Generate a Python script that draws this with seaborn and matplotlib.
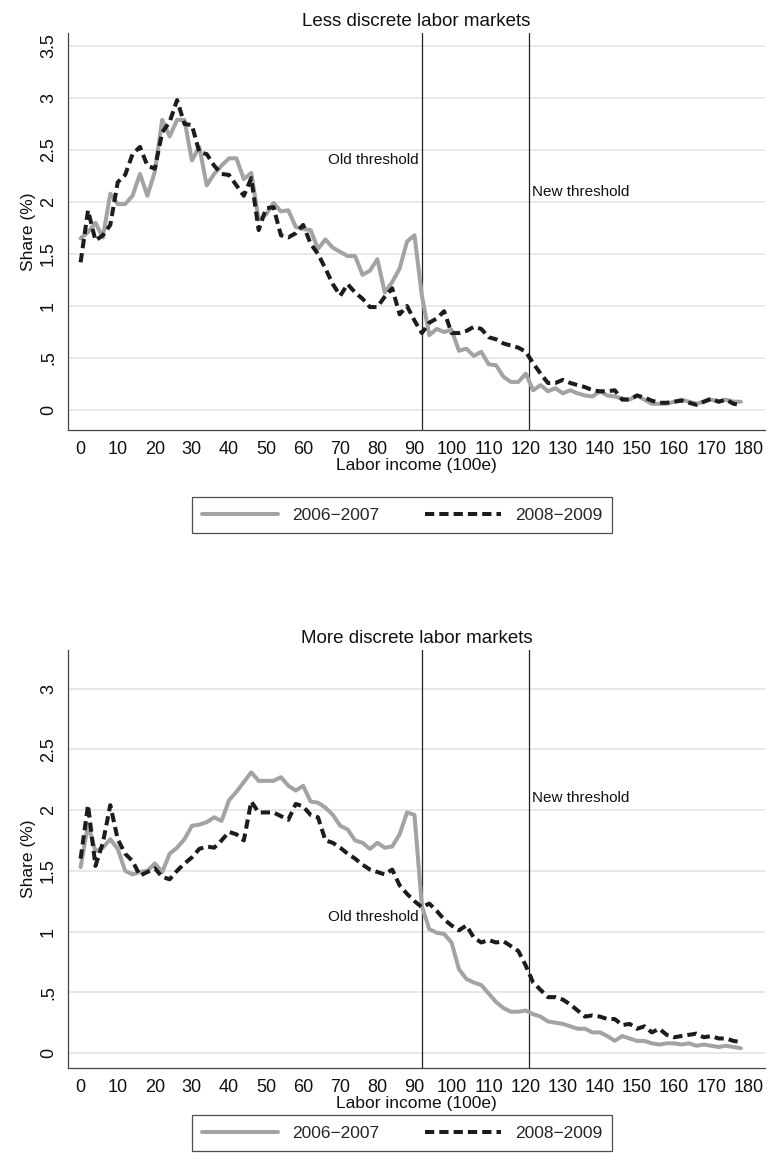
import numpy as np
import pandas as pd
import matplotlib
matplotlib.use("Agg")
import matplotlib.pyplot as plt
import seaborn as sns
from matplotlib.lines import Line2D

# Labor income bins (hundreds of euros)
income = np.arange(0, 180, 2)

# Share of workers (%) per income bin, less discrete labor markets
less_0607 = [1.65, 1.71, 1.80, 1.66, 2.08, 1.98, 1.98, 2.06, 2.27, 2.06,
             2.29, 2.79, 2.63, 2.79, 2.79, 2.40, 2.53, 2.16, 2.27, 2.35,
             2.42, 2.42, 2.22, 2.28, 1.83, 1.88, 1.99, 1.91, 1.92, 1.76,
             1.74, 1.73, 1.55, 1.64, 1.56, 1.52, 1.48, 1.48, 1.30, 1.34,
             1.45, 1.13, 1.23, 1.36, 1.62, 1.68, 1.10, 0.72, 0.78, 0.75,
             0.77, 0.57, 0.59, 0.52, 0.56, 0.44, 0.43, 0.32, 0.27, 0.27,
             0.35, 0.19, 0.24, 0.18, 0.21, 0.16, 0.19, 0.16, 0.14, 0.13,
             0.18, 0.14, 0.13, 0.11, 0.10, 0.14, 0.10, 0.06, 0.06, 0.06,
             0.08, 0.10, 0.08, 0.06, 0.08, 0.10, 0.08, 0.10, 0.08, 0.08]
less_0809 = [1.42, 1.92, 1.63, 1.68, 1.78, 2.19, 2.26, 2.46, 2.53, 2.35,
             2.32, 2.67, 2.77, 2.98, 2.75, 2.74, 2.48, 2.46, 2.35, 2.27,
             2.26, 2.16, 2.06, 2.23, 1.73, 1.94, 1.95, 1.68, 1.66, 1.70,
             1.78, 1.60, 1.50, 1.36, 1.21, 1.10, 1.21, 1.13, 1.07, 0.99,
             0.99, 1.09, 1.17, 0.92, 1.00, 0.86, 0.74, 0.84, 0.88, 0.95,
             0.74, 0.74, 0.76, 0.80, 0.78, 0.70, 0.68, 0.64, 0.62, 0.60,
             0.56, 0.45, 0.35, 0.26, 0.26, 0.29, 0.26, 0.24, 0.22, 0.19,
             0.18, 0.18, 0.19, 0.10, 0.10, 0.14, 0.12, 0.09, 0.07, 0.07,
             0.08, 0.09, 0.07, 0.05, 0.08, 0.11, 0.08, 0.10, 0.06, 0.05]

# Share of workers (%) per income bin, more discrete labor markets
more_0607 = [1.53, 1.88, 1.66, 1.69, 1.76, 1.68, 1.50, 1.47, 1.49, 1.50,
             1.56, 1.49, 1.64, 1.69, 1.76, 1.87, 1.88, 1.90, 1.94, 1.91,
             2.08, 2.15, 2.23, 2.31, 2.24, 2.24, 2.24, 2.27, 2.20, 2.16,
             2.20, 2.07, 2.06, 2.02, 1.96, 1.87, 1.84, 1.75, 1.73, 1.68,
             1.73, 1.69, 1.70, 1.80, 1.98, 1.96, 1.21, 1.02, 0.99, 0.98,
             0.91, 0.69, 0.61, 0.58, 0.56, 0.49, 0.42, 0.37, 0.34, 0.34,
             0.35, 0.32, 0.30, 0.26, 0.25, 0.24, 0.22, 0.20, 0.20, 0.17,
             0.17, 0.14, 0.10, 0.14, 0.12, 0.10, 0.10, 0.08, 0.07, 0.08,
             0.08, 0.07, 0.08, 0.06, 0.07, 0.06, 0.05, 0.06, 0.05, 0.04]
more_0809 = [1.60, 2.04, 1.54, 1.73, 2.04, 1.76, 1.64, 1.58, 1.46, 1.49,
             1.52, 1.45, 1.43, 1.50, 1.56, 1.61, 1.68, 1.70, 1.69, 1.75,
             1.82, 1.80, 1.75, 2.07, 1.98, 1.98, 1.98, 1.95, 1.92, 2.05,
             2.03, 1.96, 1.94, 1.75, 1.73, 1.69, 1.64, 1.60, 1.55, 1.51,
             1.49, 1.47, 1.51, 1.38, 1.31, 1.25, 1.20, 1.23, 1.17, 1.10,
             1.05, 1.01, 1.05, 0.95, 0.91, 0.93, 0.91, 0.92, 0.88, 0.84,
             0.72, 0.58, 0.52, 0.46, 0.46, 0.44, 0.40, 0.35, 0.30, 0.31,
             0.30, 0.28, 0.28, 0.23, 0.24, 0.20, 0.22, 0.17, 0.20, 0.15,
             0.13, 0.14, 0.15, 0.16, 0.13, 0.14, 0.12, 0.12, 0.10, 0.09]

periods = ["2006\u22122007", "2008\u22122009"]
old_threshold = 92
new_threshold = 121

panel_titles = ["Less discrete labor markets", "More discrete labor markets"]
x_ticks = list(range(0, 181, 10))
top_yticks = [0, 0.5, 1, 1.5, 2, 2.5, 3, 3.5]
bot_yticks = [0, 0.5, 1, 1.5, 2, 2.5, 3]

GRAY = "#a3a3a3"
DARK = "#1c1c1c"
LW = 2.9
DASH = (2.3, 1.25)

sns.set_theme(style="white")
plt.rcParams["font.family"] = ["Liberation Sans", "DejaVu Sans"]

fig = plt.figure(figsize=(7.68, 11.73), dpi=100)
W, H = 768, 1173


def axes_box(left, top, right, bottom):
    return [left / W, 1 - bottom / H, (right - left) / W, (bottom - top) / H]


def fmt_tick(v):
    if v == 0:
        return "0"
    s = f"{v:g}"
    return s[1:] if s.startswith("0.") else s


def draw_panel(ax, title, s0607, s0809, yticks, ylim, old_y, new_y):
    df = pd.DataFrame({
        "income": np.concatenate([income, income]),
        "share": np.concatenate([s0607, s0809]),
        "period": [periods[0]] * len(income) + [periods[1]] * len(income),
    })
    for v in yticks:
        ax.axhline(v, color="#e6e6e6", lw=1.3, zorder=0)
    sns.lineplot(data=df, x="income", y="share", hue="period", style="period",
                 palette={periods[0]: GRAY, periods[1]: DARK},
                 dashes={periods[0]: "", periods[1]: DASH},
                 linewidth=LW, ax=ax, legend=False, zorder=3)
    for xv in (old_threshold, new_threshold):
        ax.axvline(xv, color="#222222", lw=0.9, zorder=2)
    ax.text(old_threshold - 0.8, old_y, "Old threshold", ha="right", va="center",
            fontsize=11, color="#111111")
    ax.text(new_threshold + 0.8, new_y, "New threshold", ha="left", va="center",
            fontsize=11, color="#111111")
    ax.set_xlim(-3.4, 184.5)
    ax.set_ylim(*ylim)
    ax.set_xticks(x_ticks)
    ax.set_xticklabels([str(t) for t in x_ticks], fontsize=13)
    ax.set_yticks(yticks)
    ax.set_yticklabels([fmt_tick(v) for v in yticks], fontsize=13,
                       rotation=90, va="center")
    ax.tick_params(axis="both", which="both", direction="out", length=5,
                   width=0.9, color="#444444", pad=3, labelcolor="#111111")
    ax.set_xlabel("Labor income (100e)", fontsize=12.5, labelpad=0, color="#111111")
    ax.set_ylabel("Share (%)", fontsize=12.5, labelpad=3, color="#111111")
    ax.set_title(title, fontsize=13.5, pad=5, color="#111111")
    for side in ("top", "right"):
        ax.spines[side].set_visible(False)
    for side in ("left", "bottom"):
        ax.spines[side].set_color("#444444")
        ax.spines[side].set_linewidth(0.9)
    ax.set_facecolor("white")


def add_legend(center_y):
    handles = [Line2D([], [], color=GRAY, lw=LW),
               Line2D([], [], color=DARK, lw=LW, dashes=DASH)]
    leg = fig.legend(handles, periods, loc="center",
                     bbox_to_anchor=(402 / W, 1 - center_y / H), ncol=2,
                     frameon=True, fancybox=False, fontsize=12.5,
                     handlelength=4.4, handletextpad=0.8, columnspacing=2.6,
                     borderpad=0.6, borderaxespad=0)
    leg.get_frame().set_edgecolor("#222222")
    leg.get_frame().set_linewidth(0.9)


ax_top = fig.add_axes(axes_box(68, 33, 765, 430))
ax_bot = fig.add_axes(axes_box(68, 650, 765, 1068))

draw_panel(ax_top, panel_titles[0], less_0607, less_0809, top_yticks,
           (-0.192, 3.625), 2.40, 2.10)
draw_panel(ax_bot, panel_titles[1], more_0607, more_0809, bot_yticks,
           (-0.123, 3.317), 1.12, 2.10)

add_legend(515)
add_legend(1133)

fig.savefig("out.png", dpi=100, facecolor="white")
